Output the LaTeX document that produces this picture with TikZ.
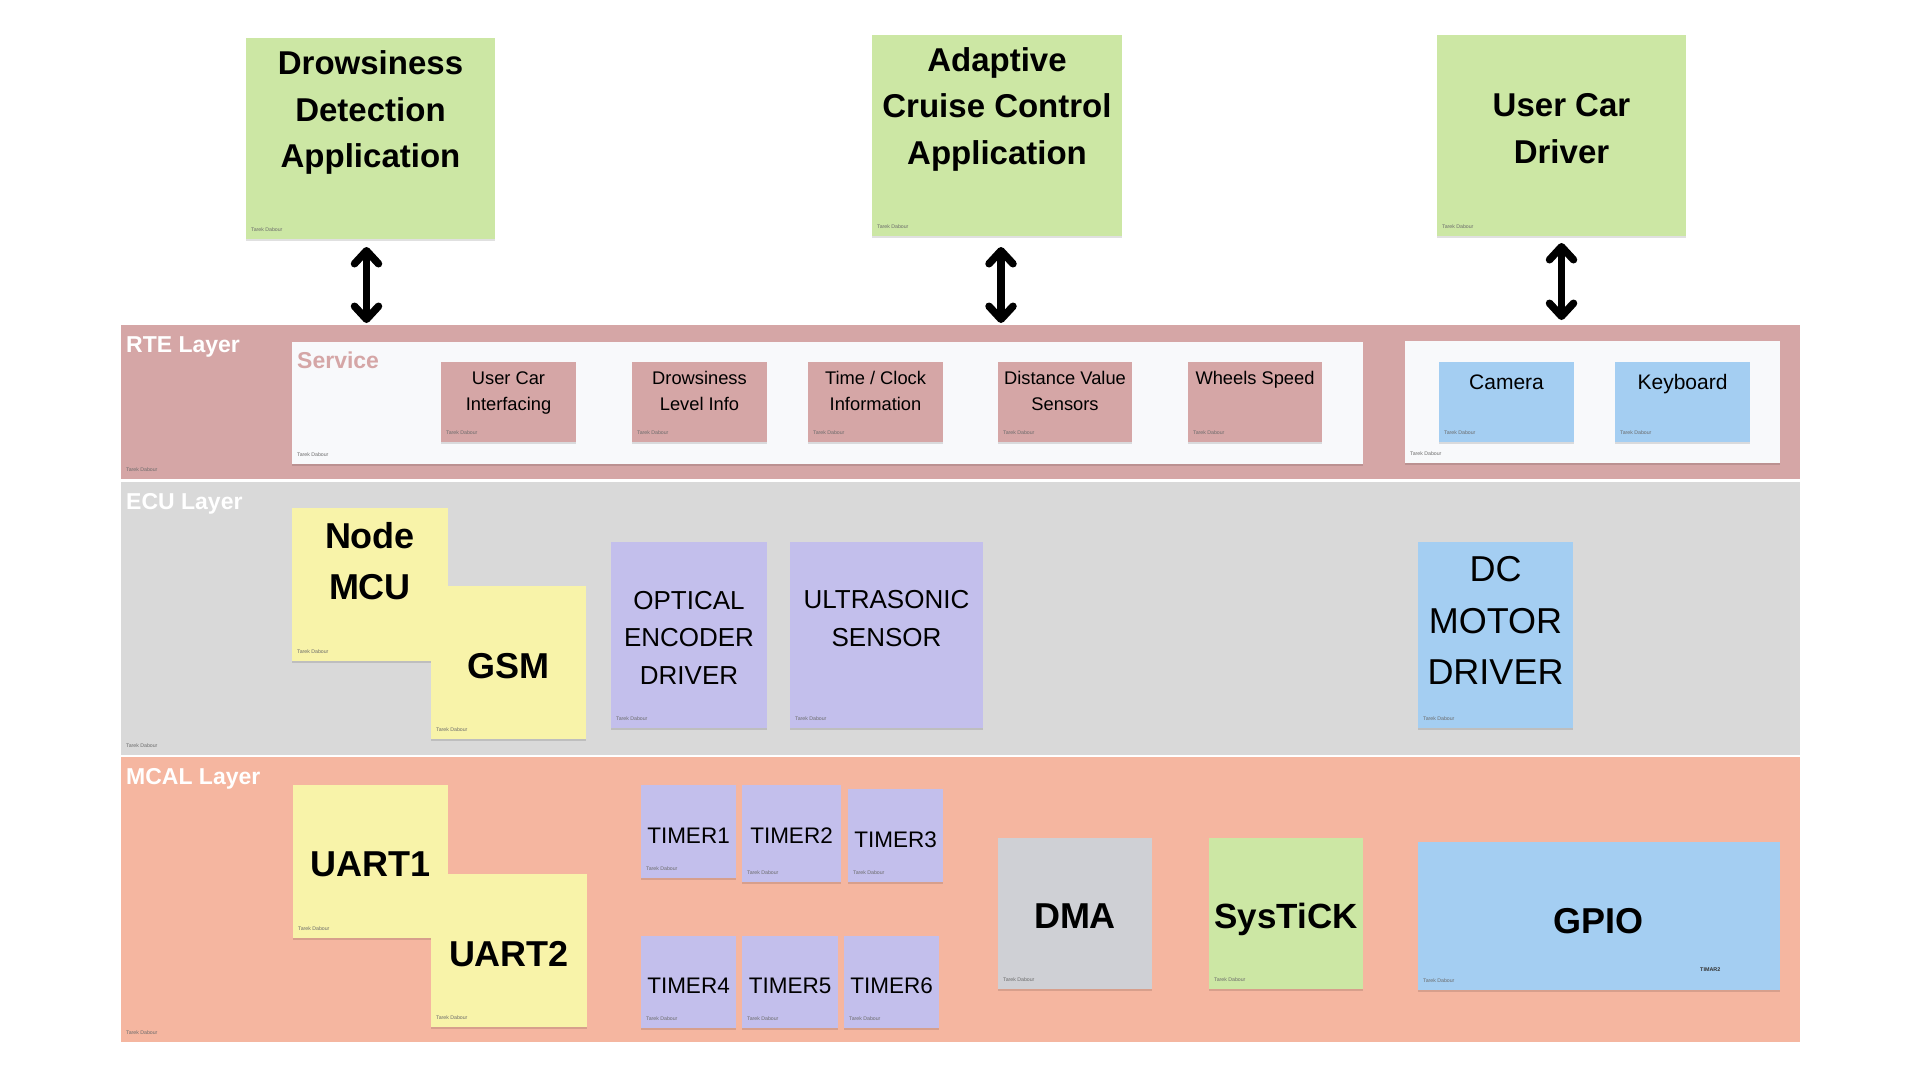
\documentclass[tikz,border=0pt]{standalone}
\usepackage{fontspec}
\setmainfont{Liberation Sans}
\usetikzlibrary{arrows.meta,shadows}
\definecolor{appgreen}{HTML}{CCE7A4}
\definecolor{rtepink}{HTML}{D5A6A6}
\definecolor{panelwhite}{HTML}{F8F9FB}
\definecolor{noteblue}{HTML}{A4CEF2}
\definecolor{ecugray}{HTML}{D9D9D9}
\definecolor{noteyellow}{HTML}{F8F3A9}
\definecolor{notepurple}{HTML}{C3BFEC}
\definecolor{mcalsalmon}{HTML}{F5B6A0}
\definecolor{dmagray}{HTML}{CFD0D5}
\definecolor{tarekgray}{HTML}{6B6B6B}
\newcommand\tk[1]{\node[tarek] (#1-tk) at ([shift={(5pt,9pt)}]#1.south west) {Tarek Dabour};}
\begin{document}
\begin{tikzpicture}[x=1pt,y=-1pt,
  note/.style={rectangle, inner sep=0pt, outer sep=0pt, anchor=north west,
    drop shadow={shadow xshift=0pt, shadow yshift=-2pt, opacity=0.12, fill=black}},
  layer/.style={rectangle, inner sep=0pt, outer sep=0pt, anchor=north west},
  tarek/.style={anchor=west, inner sep=0pt, text=tarekgray, font=\fontsize{5.2}{6}\selectfont},
  layertitle/.style={anchor=west, inner sep=0pt, text=white, font=\bfseries\fontsize{23}{27}\selectfont},
  apptxt/.style={align=center, inner sep=0pt, font=\bfseries\fontsize{33}{46.5}\selectfont},
  svctxt/.style={align=center, inner sep=0pt, font=\fontsize{18.3}{26}\selectfont},
  hwtxt/.style={align=center, inner sep=0pt, font=\fontsize{21}{25}\selectfont},
  bigbold/.style={align=center, inner sep=0pt, font=\bfseries\fontsize{36}{51}\selectfont},
  ecutxt/.style={align=center, inner sep=0pt, font=\fontsize{26}{37.5}\selectfont},
  dctxt/.style={align=center, inner sep=0pt, font=\fontsize{36}{51.5}\selectfont},
  timertxt/.style={align=center, inner sep=0pt, font=\fontsize{22.5}{27}\selectfont},
  dbl/.style={line width=7.5pt, >={Straight Barb[length=13pt,width=24pt,round]}, <->}
]
\useasboundingbox[fill=white] (0,0) rectangle (1920,1080);

% ---------- application boxes ----------
\node[note, fill=appgreen, minimum width=249pt, minimum height=201pt] (app1) at (246,38) {};
\node[apptxt] (app1-t) at (370.5,112.5) {Drowsiness\\Detection\\Application};
\tk{app1}
\node[note, fill=appgreen, minimum width=250pt, minimum height=201pt] (app2) at (872,35) {};
\node[apptxt] (app2-t) at (997,109) {Adaptive\\Cruise Control\\Application};
\tk{app2}
\node[note, fill=appgreen, minimum width=249pt, minimum height=201pt] (app3) at (1437,35) {};
\node[apptxt] (app3-t) at (1561.5,128.5) {User Car\\Driver};
\tk{app3}

% ---------- layers ----------
\node[layer, fill=rtepink, minimum width=1679pt, minimum height=154pt] (rte) at (121,325) {};
\node[layertitle] (rte-t) at (126,347) {RTE Layer};
\tk{rte}
\node[layer, fill=ecugray, minimum width=1679pt, minimum height=273pt] (ecu) at (121,482) {};
\node[layertitle] (ecu-t) at (126,503.5) {ECU Layer};
\tk{ecu}
\node[layer, fill=mcalsalmon, minimum width=1679pt, minimum height=285pt] (mcal) at (121,757) {};
\node[layertitle] (mcal-t) at (126,778.5) {MCAL Layer};
\tk{mcal}

% ---------- arrows ----------
\draw[dbl, shorten <=8pt, shorten >=2pt] ([xshift=-4pt]app1.south) -- ([xshift=-4pt]app1.south |- rte.north);
\draw[dbl, shorten <=11pt, shorten >=2pt] ([xshift=4pt]app2.south) -- ([xshift=4pt]app2.south |- rte.north);
\draw[dbl, shorten <=7pt, shorten >=5pt] (app3.south) -- (app3.south |- rte.north);

% ---------- RTE content ----------
\node[note, fill=panelwhite, minimum width=1071pt, minimum height=122pt] (svc) at (292,342) {};
\node[anchor=west, inner sep=0pt, text=rtepink, font=\bfseries\fontsize{23}{27}\selectfont] (svc-t) at (297,360) {Service};
\tk{svc}
\node[note, fill=panelwhite, minimum width=375pt, minimum height=122pt] (hw) at (1405,341) {};
\tk{hw}

\node[note, fill=rtepink, minimum width=135pt, minimum height=80pt] (uci) at (441,362) {};
\node[svctxt] (uci-t) at (508.5,393) {User Car\\Interfacing};
\tk{uci}
\node[note, fill=rtepink, minimum width=135pt, minimum height=80pt] (dli) at (632,362) {};
\node[svctxt] (dli-t) at (699.5,391) {Drowsiness\\Level Info};
\tk{dli}
\node[note, fill=rtepink, minimum width=135pt, minimum height=80pt] (tci) at (808,362) {};
\node[svctxt] (tci-t) at (875.5,391) {Time / Clock\\Information};
\tk{tci}
\node[note, fill=rtepink, minimum width=134pt, minimum height=80pt] (dvs) at (998,362) {};
\node[svctxt] (dvs-t) at (1065,391) {Distance Value\\Sensors};
\tk{dvs}
\node[note, fill=rtepink, minimum width=134pt, minimum height=80pt] (wsp) at (1188,362) {};
\node[svctxt] (wsp-t) at (1255,380) {Wheels Speed};
\tk{wsp}

\node[note, fill=noteblue, minimum width=135pt, minimum height=80pt] (cam) at (1439,362) {};
\node[hwtxt] (cam-t) at (1506.5,382) {Camera};
\tk{cam}
\node[note, fill=noteblue, minimum width=135pt, minimum height=80pt] (kbd) at (1615,362) {};
\node[hwtxt] (kbd-t) at (1682.5,384) {Keyboard};
\tk{kbd}

% ---------- ECU content ----------
\node[note, fill=noteyellow, minimum width=156pt, minimum height=153pt] (nmcu) at (292,508) {};
\node[bigbold] (nmcu-t) at (370,561.5) {Node\\MCU};
\tk{nmcu}
\node[note, fill=noteyellow, minimum width=155pt, minimum height=153pt] (gsm) at (431,586) {};
\node[bigbold] (gsm-t) at (508.5,666) {GSM};
\tk{gsm}
\node[note, fill=notepurple, minimum width=156pt, minimum height=186pt] (oed) at (611,542) {};
\node[ecutxt] (oed-t) at (689,637.5) {OPTICAL\\ENCODER\\DRIVER};
\tk{oed}
\node[note, fill=notepurple, minimum width=193pt, minimum height=186pt] (uss) at (790,542) {};
\node[ecutxt] (uss-t) at (886.5,618.75) {ULTRASONIC\\SENSOR};
\tk{uss}
\node[note, fill=noteblue, minimum width=155pt, minimum height=186pt] (dcm) at (1418,542) {};
\node[dctxt] (dcm-t) at (1495.5,620.5) {DC\\MOTOR\\DRIVER};
\tk{dcm}

% ---------- MCAL content ----------
\node[note, fill=noteyellow, minimum width=155pt, minimum height=153pt] (uart1) at (293,785) {};
\node[bigbold] (uart1-t) at (370.5,864) {UART1};
\tk{uart1}
\node[note, fill=noteyellow, minimum width=156pt, minimum height=153pt] (uart2) at (431,874) {};
\node[bigbold] (uart2-t) at (509,954) {UART2};
\tk{uart2}

\node[note, fill=notepurple, minimum width=95pt, minimum height=93pt] (t1) at (641,785) {};
\node[timertxt] (t1-t) at (688.5,836) {TIMER1};
\tk{t1}
\node[note, fill=notepurple, minimum width=99pt, minimum height=97pt] (t2) at (742,785) {};
\node[timertxt] (t2-t) at (791.5,836) {TIMER2};
\tk{t2}
\node[note, fill=notepurple, minimum width=95pt, minimum height=93pt] (t3) at (848,789) {};
\node[timertxt] (t3-t) at (895.5,840) {TIMER3};
\tk{t3}
\node[note, fill=notepurple, minimum width=95pt, minimum height=92pt] (t4) at (641,936) {};
\node[timertxt] (t4-t) at (688.5,986) {TIMER4};
\tk{t4}
\node[note, fill=notepurple, minimum width=96pt, minimum height=92pt] (t5) at (742,936) {};
\node[timertxt] (t5-t) at (790,986) {TIMER5};
\tk{t5}
\node[note, fill=notepurple, minimum width=95pt, minimum height=92pt] (t6) at (844,936) {};
\node[timertxt] (t6-t) at (891.5,986) {TIMER6};
\tk{t6}

\node[note, fill=dmagray, minimum width=154pt, minimum height=151pt] (dma) at (998,838) {};
\node[bigbold] (dma-t) at (1075,916) {DMA};
\tk{dma}
\node[note, fill=appgreen, minimum width=154pt, minimum height=151pt] (systick) at (1209,838) {};
\node[align=center, inner sep=0pt, font=\bfseries\fontsize{35}{42}\selectfont] (systick-t) at (1286,919) {SysTiCK};
\tk{systick}
\node[note, fill=noteblue, minimum width=362pt, minimum height=148pt] (gpio) at (1418,842) {};
\node[bigbold] (gpio-t) at (1598,921) {GPIO};
\node[anchor=west, inner sep=0pt, text=black!80, font=\bfseries\fontsize{5.4}{6}\selectfont] (gpio-timar) at (1700,970) {TIMAR2};
\tk{gpio}
\end{tikzpicture}
\end{document}
